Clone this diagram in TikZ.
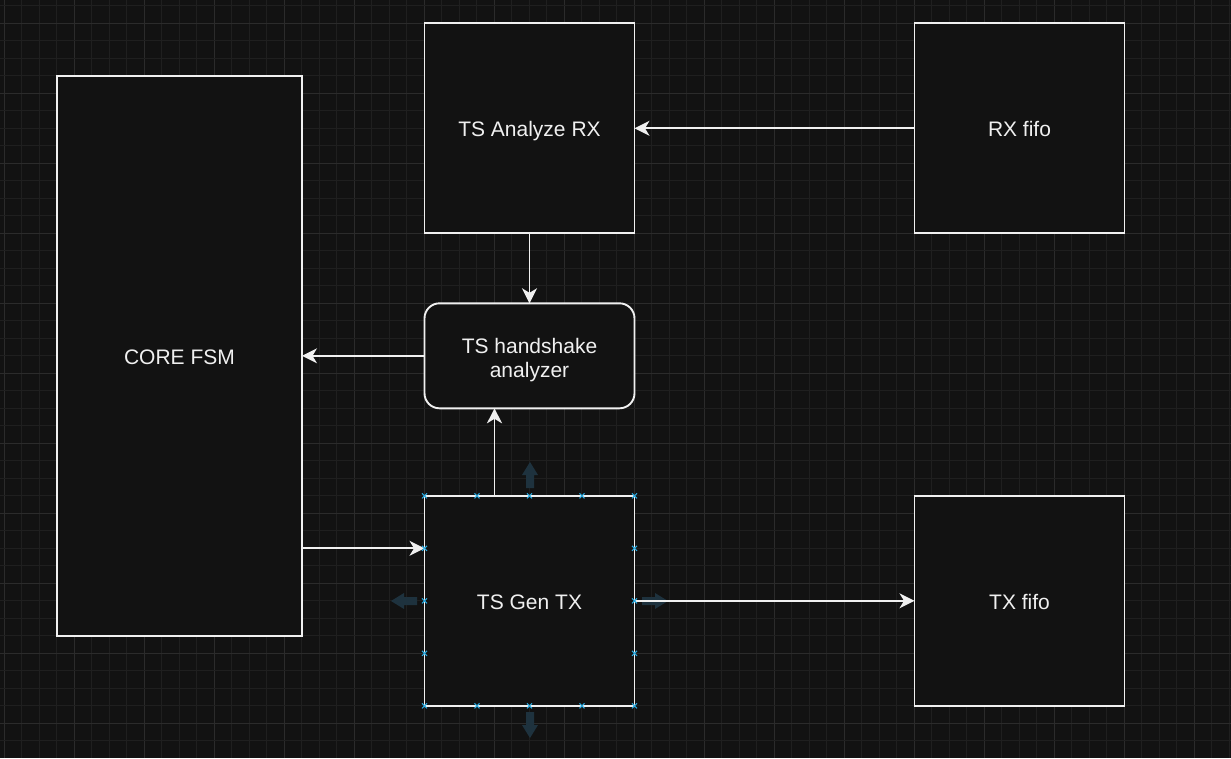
\documentclass[tikz,border=0pt]{standalone}
\usepackage{fontspec}
\setmainfont{Liberation Sans}
\usetikzlibrary{arrows.meta,calc}
\definecolor{bgc}{RGB}{18,18,18}
\definecolor{gridminor}{RGB}{31,31,31}
\definecolor{gridmajor}{RGB}{43,43,43}
\definecolor{linec}{RGB}{240,240,240}
\definecolor{hovc}{RGB}{30,50,62}
\definecolor{handc}{RGB}{41,171,226}
\newcommand\lowertxt[2]{\raisebox{-#1}[\height][\depth]{\begin{tabular}{@{}c@{}}#2\end{tabular}}}
\tikzset{
  blk/.style={draw=linec, fill=bgc, line width=1.9pt, inner sep=0pt, outer sep=0pt,
    text=linec, font=\fontsize{21}{24.5}\selectfont, align=center},
  sq/.style={blk, minimum width=210pt, minimum height=210pt},
  conn/.style={draw=linec, line width=1.9pt, -{Stealth[length=15pt,width=15pt,inset=4.5pt]}},
  hovarrow/.pic={\fill[hovc] (0,-13) -- (8,0) -- (4,0) -- (4,13) -- (-4,13) -- (-4,0) -- (-8,0) -- cycle;},
  handle/.pic={\draw[handc, line width=1pt] (-2.5,-2.5) -- (2.5,2.5) (-2.5,2.5) -- (2.5,-2.5);}
}
\begin{document}
\begin{tikzpicture}[x=1pt,y=-1pt]
\fill[bgc] (0,0) rectangle (1231,758);
\useasboundingbox (0,0) rectangle (1231,758);
% grid
\foreach \k in {0,...,70} {
  \pgfmathsetmacro{\xx}{4.3+17.5*\k}
  \pgfmathtruncatemacro{\mm}{mod(\k,4)}
  \ifnum\mm=0
    \draw[gridmajor, line width=1pt] (\xx,0) -- (\xx,758);
  \else
    \draw[gridminor, line width=1pt] (\xx,0) -- (\xx,758);
  \fi
}
\foreach \k in {0,...,42} {
  \pgfmathsetmacro{\yy}{5.8+17.5*\k}
  \pgfmathtruncatemacro{\mm}{mod(\k,4)}
  \ifnum\mm=1
    \draw[gridmajor, line width=1pt] (0,\yy) -- (1231,\yy);
  \else
    \draw[gridminor, line width=1pt] (0,\yy) -- (1231,\yy);
  \fi
}
% hover arrows
\pic at (530,475) {hovarrow};
\pic[rotate=180] at (530,725) {hovarrow};
\pic[rotate=90] at (404,601) {hovarrow};
\pic[rotate=-90] at (655,601) {hovarrow};
% blocks
\node[blk, minimum width=245pt, minimum height=560pt] (core) at (179.5,355.8) {\lowertxt{3.5pt}{CORE FSM}};
\node[sq] (ana) at (529.5,128.3) {\lowertxt{3.5pt}{TS Analyze RX}};
\node[sq] (rxf) at (1019.5,128.3) {\lowertxt{3.5pt}{RX fifo}};
\node[blk, minimum width=210pt, minimum height=105pt, rounded corners=15pt] (hs) at (529.5,355.8) {\lowertxt{5pt}{TS handshake\\analyzer}};
\node[sq] (gen) at (529.5,600.8) {\lowertxt{3.5pt}{TS Gen TX}};
\node[sq] (txf) at (1019.5,600.8) {\lowertxt{3.5pt}{TX fifo}};
% connectors
\coordinate (gtop) at ([xshift=70pt]gen.north west);
\coordinate (gin) at ([yshift=-52.5pt]gen.north west);
\draw[conn] (rxf.west) -- (ana.east);
\draw[conn] (ana.south) -- (hs.north);
\draw[conn] (hs.west) -- (core.east);
\draw[conn] (gtop) -- (gtop |- hs.south);
\draw[conn] (core.east |- gin) -- (gin);
\draw[conn] (gen.east) -- (txf.west);
% selection handles
\foreach \hx in {424.5,477,529.5,582,634.5} {
  \pic at (\hx,495.8) {handle};
  \pic at (\hx,705.8) {handle};
}
\foreach \hy in {548.3,600.8,653.3} {
  \pic at (424.5,\hy) {handle};
  \pic at (634.5,\hy) {handle};
}
\end{tikzpicture}
\end{document}
